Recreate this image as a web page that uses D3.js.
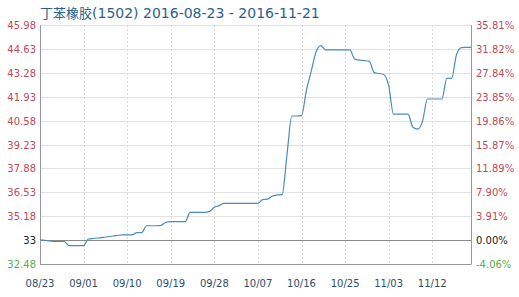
<!DOCTYPE html>
<html><head><meta charset="utf-8">
<script src="https://cdn.jsdelivr.net/npm/d3@7"></script>
<style>body{margin:0;background:#fff}svg{display:block}</style>
</head><body><svg id="c" width="519" height="297"></svg>
<script>
const titleName = "丁苯橡胶";
const titleRest = "(1502) 2016-08-23 - 2016-11-21";
const startDate = "2016-08-23";
const endDate = "2016-11-20";
const values = [33.85,33.82,33.78,33.75,33.75,33.75,33.52,33.52,33.52,33.52,
33.89,33.92,33.95,33.98,34.02,34.06,34.09,34.12,34.12,34.12,
34.25,34.25,34.64,34.64,34.64,34.66,34.84,34.87,34.87,34.87,
34.87,35.40,35.40,35.40,35.40,35.45,35.68,35.78,35.91,35.91,
35.91,35.91,35.91,35.91,35.91,35.91,36.12,36.14,36.32,36.38,
36.40,38.65,40.84,40.84,40.86,42.27,43.36,44.45,44.81,44.57,
44.57,44.57,44.57,44.57,44.57,44.05,44.00,43.97,43.93,43.29,
43.24,43.18,42.55,40.95,40.95,40.95,40.95,40.20,40.10,40.55,
41.80,41.80,41.80,41.80,42.97,42.97,44.30,44.70,44.72,44.72];
const leftTicks = [32.48,33.83,35.18,36.53,37.88,39.23,40.58,41.93,43.28,44.63,45.98];
const leftLabels = ["32.48","33","35.18","36.53","37.88","39.23","40.58","41.93","43.28","44.63","45.98"];
const rightLabels = ["-4.06%","0.00%","3.91%","7.90%","11.89%","15.87%","19.86%","23.85%","27.84%","31.82%","35.81%"];
const xTickLabels = ["08/23","09/01","09/10","09/19","09/28","10/07","10/16","10/25","11/03","11/12"];

const parse = d3.timeParse("%Y-%m-%d");
const t0 = parse(startDate);
const data = values.map((v,i)=>({d:d3.timeDay.offset(t0,i), v}));
const L=40,R=471,T=25,B=264;
const x = d3.scaleTime().domain([t0, parse(endDate)]).range([L,R]);
const y = d3.scaleLinear().domain([32.48,45.98]).range([B,T]);
const svg = d3.select("#c");
const font = "DejaVu Sans, Verdana, sans-serif";

const tt = svg.append("text").attr("x",40).attr("y",18).attr("fill","#2b5f8c")
  .attr("font-family","'DejaVu Sans', 'Noto Sans CJK SC', sans-serif");
tt.append("tspan").attr("font-size",13).attr("font-family","'Noto Sans CJK SC', sans-serif").text(titleName);
tt.append("tspan").attr("font-size",14).text(titleRest);

// horizontal grid
leftTicks.forEach((t,i)=>{
  if(i===1) return;
  svg.append("line").attr("x1",L).attr("x2",R).attr("y1",Math.round(y(t))+0.5).attr("y2",Math.round(y(t))+0.5)
    .attr("stroke", i===0 ? "#999" : "#e2e2e2");
});
// vertical grid
const xTicks = xTickLabels.map((s,i)=>d3.timeDay.offset(t0,i*9));
xTicks.forEach((t,i)=>{
  if(i===0) return;
  svg.append("line").attr("x1",Math.round(x(t))+0.5).attr("x2",Math.round(x(t))+0.5).attr("y1",T).attr("y2",B)
    .attr("stroke","#d8d8d8").attr("stroke-dasharray","2,2");
});
// base line
svg.append("line").attr("x1",L).attr("x2",R).attr("y1",Math.round(y(leftTicks[1]))+0.5).attr("y2",Math.round(y(leftTicks[1]))+0.5)
  .attr("stroke","#8a8a8a");
// axes lines
svg.append("line").attr("x1",L+0.5).attr("x2",L+0.5).attr("y1",T).attr("y2",B+0.5).attr("stroke","#999");
svg.append("line").attr("x1",R+0.5).attr("x2",R+0.5).attr("y1",T).attr("y2",B+0.5).attr("stroke","#999");

// labels
leftTicks.forEach((t,i)=>{
  const col = i===0 ? "#5cab4e" : (i===1 ? "#222" : "#c04a5a");
  svg.append("text").attr("x",36).attr("y",y(t)+4).attr("text-anchor","end")
    .attr("font-family",font).attr("font-size",10).attr("fill",col).text(leftLabels[i]);
  svg.append("text").attr("x",476).attr("y",y(t)+4).attr("text-anchor","start")
    .attr("font-family",font).attr("font-size",10).attr("fill",col).text(rightLabels[i]);
});
xTicks.forEach((t,i)=>{
  svg.append("text").attr("x",x(t)).attr("y",287).attr("text-anchor","middle")
    .attr("font-family",font).attr("font-size",10).attr("fill","#2d4d6b").text(xTickLabels[i]);
});

const line = d3.line().x(d=>x(d.d)).y(d=>y(d.v)).curve(d3.curveMonotoneX);
svg.append("path").datum(data).attr("d",line).attr("fill","none").attr("stroke","#4a8bbd").attr("stroke-width",1.2);
</script></body></html>
